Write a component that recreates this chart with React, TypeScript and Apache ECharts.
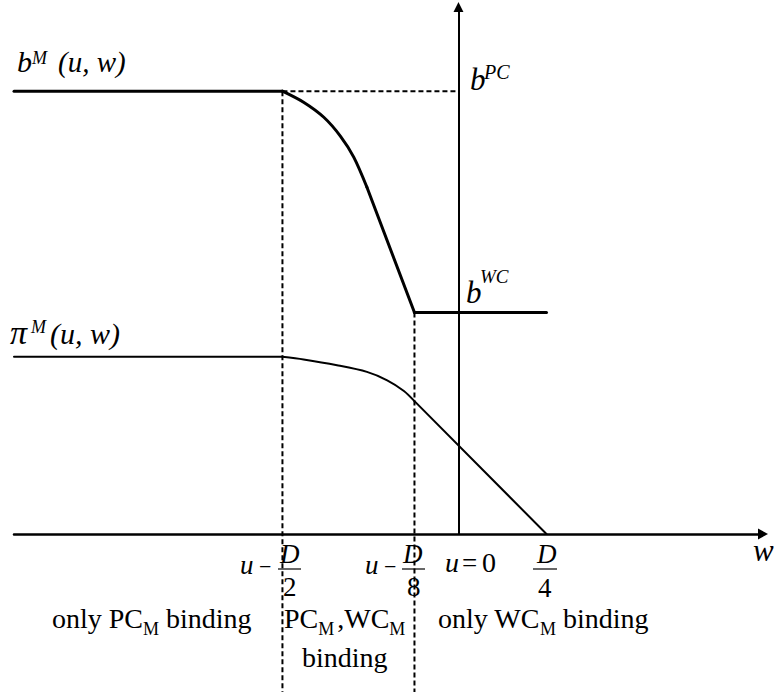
import { useEffect, useRef } from 'react';
import * as echarts from 'echarts';

// ---- axis ranges (w on x, value on y) ----
const X_MIN = -5.05;
const X_MAX = 3.46;
const Y_MIN = 0;
const Y_MAX = 11.9;

// ---- key levels / positions ----
const bPC = 10;           // b^PC
const bWC = 5;            // b^WC
const wPC = -2;           // u - D/2
const wWC = -0.5;         // u - D/8
const guideBottom = -3.6; // dashed guides run to the page bottom

// ---- b^M(u,w): flat PC part, curved middle part, straight drop, flat WC part ----
const bFlatLeftX = [X_MIN, -2];
const bFlatLeftY = [10, 10];
const bCurveX = [-2, -1.76, -1.53, -1.34, -1.19, -1.04];
const bCurveY = [10, 9.75, 9.41, 8.98, 8.51, 7.83];
const bDropX = [-1.04, -0.5];
const bDropY = [7.83, 5];
const bFlatRightX = [-0.5, 1.0];
const bFlatRightY = [5, 5];

// ---- pi^M(u,w) ----
const piFlatX = [X_MIN, -2];
const piFlatY = [4, 4];
const piCurveX = [-2, -1.76, -1.38, -1.04, -0.81, -0.62, -0.5];
const piCurveY = [4, 3.94, 3.81, 3.66, 3.47, 3.23, 3.0];
const piLineX = [-0.5, 1.0];
const piLineY = [3.0, 0];

const FONT = '"Liberation Serif", "Times New Roman", serif';

const zip = (xs: number[], ys: number[]) => xs.map((x, i) => [x, ys[i]]);

let measureCtx: CanvasRenderingContext2D | null = null;
function measure(text: string, size: number, italic: boolean) {
  if (!measureCtx) measureCtx = document.createElement('canvas').getContext('2d');
  if (!measureCtx) return text.length * size * 0.5;
  measureCtx.font = `${italic ? 'italic ' : ''}${size}px ${FONT}`;
  return measureCtx.measureText(text).width;
}

function txt(text: string, x: number, baseline: number, size: number, italic = false) {
  return {
    type: 'text',
    x,
    y: baseline - 0.3375 * size,
    silent: true,
    z: 10,
    style: {
      text,
      fontSize: size,
      fontFamily: FONT,
      fontStyle: italic ? 'italic' : 'normal',
      fill: '#000',
      align: 'left',
      verticalAlign: 'middle',
    },
  };
}

type Part = { t: string; s: number; i?: boolean; dy?: number; gap?: number };
function row(parts: Part[], x0: number, baseline: number) {
  let x = x0;
  const els: any[] = [];
  for (const p of parts) {
    x += p.gap ?? 0;
    els.push(txt(p.t, x, baseline + (p.dy ?? 0), p.s, !!p.i));
    x += measure(p.t, p.s, !!p.i);
  }
  return els;
}

function bar(x1: number, x2: number, y: number) {
  return {
    type: 'line',
    silent: true,
    z: 10,
    shape: { x1, y1: y, x2, y2: y },
    style: { stroke: '#000', lineWidth: 1.2 },
  };
}

function buildGraphic() {
  const els: any[] = [];
  // b^M(u,w)
  els.push(txt('b', 17, 72, 30, true), txt('M', 32, 64, 18, true), txt('(u, w)', 58, 72, 29, true));
  // pi^M(u,w)
  els.push(txt('π', 10, 344, 34, true), txt('M', 31, 333, 18, true), txt('(u, w)', 50, 344, 30, true));
  // b^PC
  els.push(txt('b', 470, 90, 31, true), txt('PC', 484, 79, 20, true));
  // b^WC
  els.push(txt('b', 466, 303, 31, true), txt('WC', 480, 283, 19, true));
  // u - D/2
  els.push(txt('u', 240, 574, 27, true), txt('−', 259, 574, 22), txt('D', 280, 563, 27, true), bar(278, 301, 569), txt('2', 283, 596, 27));
  // u - D/8
  els.push(txt('u', 365, 574, 27, true), txt('−', 384, 574, 22), txt('D', 403, 563, 27, true), bar(402, 425, 569), txt('8', 407, 596, 27));
  // u = 0
  els.push(txt('u', 445, 572, 28, true), txt('=', 462, 572, 27), txt('0', 482, 572, 28));
  // D/4
  els.push(txt('D', 537, 563, 27, true), bar(533, 557, 569), txt('4', 538, 597, 27));
  // w axis name
  els.push(txt('w', 753, 561, 31, true));
  // region texts
  els.push(...row([{ t: 'only PC', s: 28 }, { t: 'M', s: 18, dy: 7 }, { t: ' binding', s: 28 }], 52, 628));
  els.push(...row([{ t: 'PC', s: 28 }, { t: 'M', s: 18, dy: 7 }, { t: ',WC', s: 28, gap: 3 }, { t: 'M', s: 18, dy: 7 }], 284, 628));
  els.push(txt('binding', 302, 667, 28));
  els.push(...row([{ t: 'only WC', s: 28 }, { t: 'M', s: 18, dy: 7 }, { t: ' binding', s: 28 }], 438, 628));
  return els;
}

function lineSeries(data: number[][], width: number, smooth: number | boolean = false) {
  return {
    type: 'line',
    data,
    symbol: 'none',
    clip: false,
    smooth,
    z: 5,
    lineStyle: { color: '#000', width, cap: 'round', join: 'round' },
  };
}

export default function App() {
  const ref = useRef<HTMLDivElement>(null);
  useEffect(() => {
    if (!ref.current) return;
    const chart = echarts.init(ref.current, undefined, { renderer: 'svg' });
    const dashed = { color: '#000', width: 2, type: [5, 3] as number[] };
    const dashedSeries = (data: number[][]) => ({
      type: 'line',
      data,
      symbol: 'none',
      clip: false,
      z: 3,
      lineStyle: dashed,
    });
    chart.setOption({
      animation: false,
      backgroundColor: '#fff',
      grid: { left: 14, right: 13, top: 7, bottom: 158, outerBoundsMode: 'none' },
      xAxis: {
        type: 'value',
        min: X_MIN,
        max: X_MAX,
        axisLine: {
          show: true,
          onZero: true,
          symbol: ['none', 'triangle'],
          symbolSize: [11, 10],
          lineStyle: { color: '#000', width: 2.5 },
        },
        axisTick: { show: false },
        axisLabel: { show: false },
        splitLine: { show: false },
      },
      yAxis: {
        type: 'value',
        min: Y_MIN,
        max: Y_MAX,
        axisLine: {
          show: true,
          onZero: true,
          symbol: ['none', 'triangle'],
          symbolSize: [10, 10],
          lineStyle: { color: '#000', width: 2 },
        },
        axisTick: { show: false },
        axisLabel: { show: false },
        splitLine: { show: false },
      },
      series: [
        lineSeries(zip(bFlatLeftX, bFlatLeftY), 3),
        lineSeries(zip(bCurveX, bCurveY), 3, 0.3),
        lineSeries(zip(bDropX, bDropY), 3),
        lineSeries(zip(bFlatRightX, bFlatRightY), 3),
        lineSeries(zip(piFlatX, piFlatY), 2),
        lineSeries(zip(piCurveX, piCurveY), 2, 0.3),
        lineSeries(zip(piLineX, piLineY), 2),
        dashedSeries([[wPC, bPC], [0, bPC]]),
        dashedSeries([[wPC, bPC], [wPC, guideBottom]]),
        dashedSeries([[wWC, bWC], [wWC, guideBottom]]),
      ],
      graphic: buildGraphic(),
    });
    return () => chart.dispose();
  }, []);
  return (
    <div
      ref={ref}
      style={{ position: 'absolute', left: 0, top: 0, width: 776, height: 692, background: '#fff' }}
    />
  );
}
